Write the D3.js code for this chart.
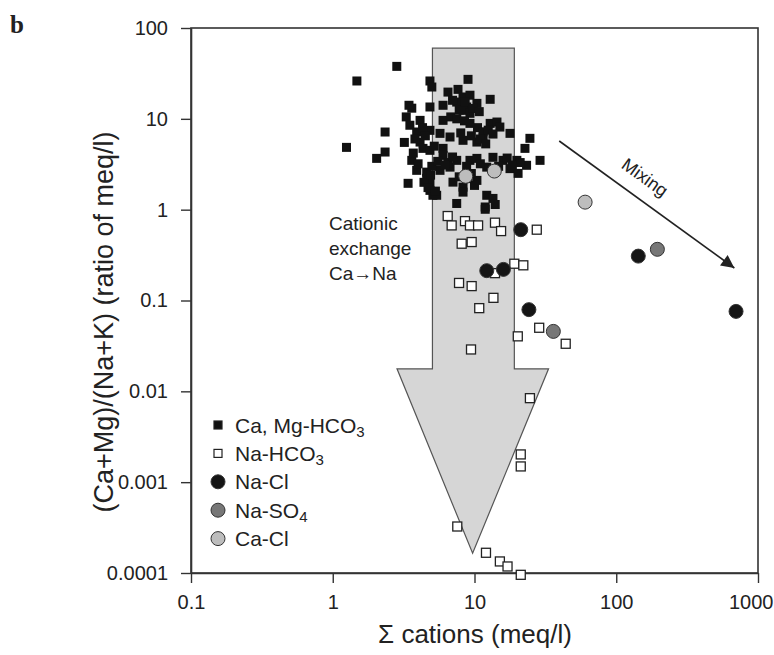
<!DOCTYPE html>
<html>
<head>
<meta charset="utf-8">
<script src="https://cdn.jsdelivr.net/npm/d3@7"></script>
<style>
  body { margin: 0; background: #fff; }
  svg text { font-family: "Liberation Sans", Arial, sans-serif; fill: #222; }
</style>
</head>
<body>
<div id="chart"></div>
<script>
var svgWidth = 774;
var svgHeight = 655;

var margin = { top: 28, right: 16, bottom: 82, left: 191 };
var width = 758 - margin.left;
var height = 573 - margin.top;

// tick values
var xTicks = [0.1, 1, 10, 100, 1000];
var yTicks = [0.0001, 0.001, 0.01, 0.1, 1, 10, 100];

// [sum of cations (meq/l), (Ca+Mg)/(Na+K)]
var caMgHCO3 = [
  [2.83, 37.8], [1.48, 26.1], [4.85, 26.1], [5.0, 22.4], [9.0, 27.2], [6.5, 19.7],
  [7.65, 21.1], [8.3, 17.4], [9.29, 18.2], [12.9, 16.4], [3.61, 13.1], [3.45, 14.1],
  [4.85, 13.5], [6.0, 14.1], [7.49, 15.3], [8.81, 13.5], [10.4, 14.8], [8.3, 12.4],
  [9.29, 11.5], [4.13, 9.62], [6.0, 9.62], [9.29, 8.91], [12.9, 8.91], [14.4, 9.22],
  [15.1, 8.12], [17.8, 6.92], [24.6, 6.1], [2.34, 7.16], [1.25, 4.85], [3.91, 7.16],
  [4.85, 7.47], [5.71, 6.92], [6.72, 6.31], [8.3, 5.8], [10.4, 5.55], [11.5, 6.31],
  [4.13, 5.55], [4.33, 4.73], [4.85, 4.5], [6.0, 4.73], [6.0, 3.96], [22.7, 4.73],
  [2.34, 4.31], [2.04, 3.67], [3.61, 3.49], [29.0, 3.49], [7.49, 3.49], [9.29, 3.49],
  [10.4, 3.67], [13.5, 3.77], [15.9, 3.49], [19.9, 3.49], [23.3, 3.08], [3.91, 2.71],
  [4.6, 2.59], [5.71, 2.71], [6.72, 2.94], [12.2, 2.94], [17.8, 2.83], [20.3, 2.51],
  [4.6, 2.21], [4.85, 1.95], [3.4, 1.95], [7.05, 2.01], [8.3, 1.77], [10.4, 2.1],
  [4.85, 1.63], [5.09, 1.44], [5.41, 1.44], [8.3, 1.56], [12.2, 1.44], [13.5, 1.33],
  [7.49, 1.17], [11.9, 1.07], [11.9, 1.01], [14.0, 1.14],
  [3.3, 10.5], [3.5, 8.5], [3.8, 6.0], [4.3, 8.0], [4.5, 6.5], [5.2, 5.0], [3.7, 4.2],
  [4.0, 3.2], [5.0, 3.0], [3.2, 5.5], [7.0, 16.0], [7.8, 12.5], [8.6, 15.5], [9.8, 13.0],
  [10.8, 12.0], [6.8, 10.5], [7.5, 10.0], [8.5, 9.5], [10.5, 8.0], [11.5, 7.2], [12.5, 7.5],
  [13.5, 6.8], [11.0, 6.0], [12.0, 5.3], [9.5, 6.5], [8.0, 7.0], [6.5, 3.3], [7.0, 3.8],
  [8.8, 3.0], [11.0, 3.2], [14.8, 3.0], [17.0, 3.7], [21.0, 3.3], [18.5, 3.1], [4.4, 2.0],
  [4.7, 1.75], [5.3, 1.6], [4.9, 2.4], [7.8, 2.3], [9.0, 2.2], [10.0, 1.85], [9.5, 2.5],
  [5.5, 3.4], [6.2, 3.1]
];
var naHCO3 = [
  [6.47, 0.851], [6.9, 0.671], [8.57, 0.748], [9.29, 0.671], [10.6, 0.671], [13.95, 0.719],
  [15.4, 0.581], [27.5, 0.602], [8.12, 0.422], [9.55, 0.44], [19.1, 0.254], [22.1, 0.244],
  [13.95, 0.2], [7.78, 0.156], [9.55, 0.144], [13.6, 0.107], [10.8, 0.0824], [28.6, 0.0501],
  [20.2, 0.0403], [44.0, 0.0334], [9.45, 0.0289], [24.6, 0.00841], [21.2, 0.00202],
  [21.2, 0.00149], [7.56, 0.000325], [12.05, 0.000167], [15.1, 0.000134], [17.1, 0.000118],
  [21.2, 0.0000955]
];
var naCl = [[21.2, 0.602], [12.2, 0.213], [16.0, 0.22], [24.2, 0.0793], [143, 0.308], [700, 0.0759]];
var naSO4 = [[36.0, 0.0457], [195, 0.366]];
var caCl = [[8.67, 2.33], [13.8, 2.66], [60.3, 1.21]];

// annotation shapes, in data units
var exchangeArrow = [
  [5.05, 60], [19.1, 60], [19.1, 0.0177], [33.3, 0.0177],
  [9.7, 0.000165], [2.84, 0.0177], [5.05, 0.0177]
];
var mixingLine = [[39.6, 5.7], [681, 0.228]];

var legendItems = [
  { label: "Ca, Mg-HCO", sub: "3", shape: "square", fill: "#111" },
  { label: "Na-HCO", sub: "3", shape: "square", fill: "#fff" },
  { label: "Na-Cl", sub: "", shape: "circle", fill: "#151515" },
  { label: "Na-SO", sub: "4", shape: "circle", fill: "#777" },
  { label: "Ca-Cl", sub: "", shape: "circle", fill: "#bdbdbd" }
];

var svg = d3.select("#chart")
  .append("svg")
  .attr("width", svgWidth)
  .attr("height", svgHeight);

var chartGroup = svg.append("g")
  .attr("transform", `translate(${margin.left}, ${margin.top})`);

var xScale = d3.scaleLog().domain([0.1, 1000]).range([0, width]);
var yScale = d3.scaleLog().domain([0.0001, 100]).range([height, 0]);

// big cation exchange arrow (behind the points)
var line = d3.line().x(d => xScale(d[0])).y(d => yScale(d[1]));
chartGroup.append("path")
  .attr("d", line(exchangeArrow) + "Z")
  .attr("fill", "#d6d6d6")
  .attr("stroke", "#555")
  .attr("stroke-width", 1.2);

// frame
chartGroup.append("rect")
  .attr("width", width)
  .attr("height", height)
  .attr("fill", "none")
  .attr("stroke", "#333")
  .attr("stroke-width", 1.6);

var fmt = d => (d >= 1 ? d3.format("d")(d) : d3.format("~g")(d));

var bottomAxis = d3.axisBottom(xScale).tickValues(xTicks).tickFormat(fmt)
  .tickSize(10).tickSizeOuter(0).tickPadding(12);
var leftAxis = d3.axisLeft(yScale).tickValues(yTicks).tickFormat(d => d < 0.001 ? "0.0001" : fmt(d))
  .tickSize(10).tickSizeOuter(0).tickPadding(13);

var xAxis = chartGroup.append("g")
  .attr("transform", `translate(0, ${height})`)
  .call(bottomAxis);
var yAxis = chartGroup.append("g").call(leftAxis);

[xAxis, yAxis].forEach(function(ax) {
  ax.select(".domain").attr("stroke", "#333").attr("stroke-width", 1.6);
  ax.selectAll(".tick line").attr("stroke", "#333").attr("stroke-width", 1.4);
  ax.selectAll(".tick text").attr("font-size", 20).attr("fill", "#222")
    .style("font-family", "'Liberation Sans', Arial, sans-serif");
});
// keep the last x label inside the page
xAxis.selectAll(".tick text").filter(d => d === 1000).attr("text-anchor", "end").attr("x", 15);

// points
var sq = 9;
chartGroup.selectAll(".camg")
  .data(caMgHCO3)
  .enter()
  .append("rect")
  .attr("x", d => xScale(d[0]) - sq / 2)
  .attr("y", d => yScale(d[1]) - sq / 2)
  .attr("width", sq)
  .attr("height", sq)
  .attr("fill", "#111");

chartGroup.selectAll(".nahco")
  .data(naHCO3)
  .enter()
  .append("rect")
  .attr("x", d => xScale(d[0]) - 4.5)
  .attr("y", d => yScale(d[1]) - 4.5)
  .attr("width", 9)
  .attr("height", 9)
  .attr("fill", "#fff")
  .attr("stroke", "#222")
  .attr("stroke-width", 1.3);

function circles(data, fill) {
  chartGroup.append("g").selectAll("circle")
    .data(data)
    .enter()
    .append("circle")
    .attr("cx", d => xScale(d[0]))
    .attr("cy", d => yScale(d[1]))
    .attr("r", 7)
    .attr("fill", fill)
    .attr("stroke", "#333")
    .attr("stroke-width", 1);
}
circles(naCl, "#151515");
circles(naSO4, "#777");
circles(caCl, "#bdbdbd");

// mixing arrow
svg.append("defs").append("marker")
  .attr("id", "head")
  .attr("viewBox", "0 0 10 10")
  .attr("refX", 10).attr("refY", 5)
  .attr("markerWidth", 19).attr("markerHeight", 13)
  .attr("markerUnits", "userSpaceOnUse")
  .attr("orient", "auto")
  .append("path")
  .attr("d", "M0,0 L10,5 L0,10 Z")
  .attr("fill", "#222");

var m0 = [xScale(mixingLine[0][0]), yScale(mixingLine[0][1])];
var m1 = [xScale(mixingLine[1][0]), yScale(mixingLine[1][1])];
chartGroup.append("line")
  .attr("x1", m0[0]).attr("y1", m0[1])
  .attr("x2", m1[0]).attr("y2", m1[1])
  .attr("stroke", "#222")
  .attr("stroke-width", 1.6)
  .attr("marker-end", "url(#head)");

var ang = Math.atan2(m1[1] - m0[1], m1[0] - m0[0]);
var len = Math.hypot(m1[0] - m0[0], m1[1] - m0[1]);
var tx = m0[0] + Math.cos(ang) * len * 0.42 + Math.sin(ang) * 21;
var ty = m0[1] + Math.sin(ang) * len * 0.42 - Math.cos(ang) * 21;
chartGroup.append("text")
  .attr("transform", `translate(${tx},${ty}) rotate(${ang * 180 / Math.PI})`)
  .attr("text-anchor", "middle")
  .attr("dy", "0.35em")
  .attr("font-size", 18)
  .text("Mixing");

// cationic exchange label
var cx = svg.append("text").attr("font-size", 19);
["Cationic", "exchange", "Ca\u2192Na"].forEach(function(t, i) {
  cx.append("tspan").attr("x", 329).attr("y", 230 + i * 25).text(t);
});

// legend
var legend = svg.append("g").attr("transform", "translate(218, 425)");
legendItems.forEach(function(d, i) {
  var g = legend.append("g").attr("transform", `translate(0, ${i * 28.4})`);
  if (d.shape === "square") {
    g.append("rect").attr("x", -4).attr("y", -4).attr("width", 8).attr("height", 8)
      .attr("fill", d.fill).attr("stroke", "#222").attr("stroke-width", 1.2);
  } else {
    g.append("circle").attr("r", 7).attr("fill", d.fill)
      .attr("stroke", "#333").attr("stroke-width", 1);
  }
  var t = g.append("text").attr("x", 17).attr("dy", "0.36em").attr("font-size", 21).text(d.label);
  if (d.sub) t.append("tspan").attr("font-size", 15).attr("dy", 4).text(d.sub);
});

// axis titles
svg.append("text")
  .attr("x", 475).attr("y", 643)
  .attr("text-anchor", "middle")
  .attr("font-size", 26)
  .text("\u03A3 cations (meq/l)");

svg.append("text")
  .attr("transform", "translate(113, 322) rotate(-90)")
  .attr("text-anchor", "middle")
  .attr("font-size", 27)
  .text("(Ca+Mg)/(Na+K) (ratio of meq/l)");

svg.append("text")
  .attr("x", 10).attr("y", 33)
  .attr("font-size", 25)
  .attr("font-weight", "bold")
  .style("font-family", "'Liberation Serif', 'Times New Roman', serif")
  .text("b");
</script>
</body>
</html>
